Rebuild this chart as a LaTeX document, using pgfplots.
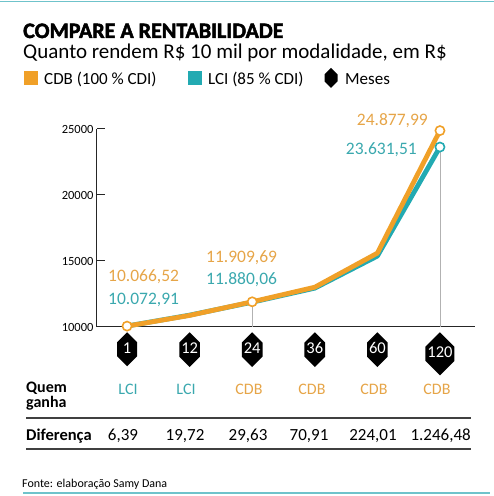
\documentclass[border=0pt]{standalone}
\usepackage{pgfplots}
\pgfplotsset{compat=1.18}
\usepackage{fontspec}
\setmainfont{Carlito}
\newfontfamily\heavyfont[BoldFeatures={FakeBold=2.2}]{Carlito}
\usetikzlibrary{shapes.symbols}
\definecolor{cdb}{HTML}{F0A028}
\definecolor{lci}{HTML}{22AAB2}
\definecolor{cdbtxt}{HTML}{E6A548}
\definecolor{lcitxt}{HTML}{3AA8AE}
\definecolor{rule}{HTML}{6FC3CB}
\newcommand{\fs}[1]{\fontsize{#1}{#1}\selectfont}
\tikzset{hexa/.style={signal, signal to=north and south, signal pointer angle=90,
  fill=black, text=white, inner xsep=2pt, inner ysep=0pt, text height=11pt, text depth=3pt,
  minimum width=20pt, font=\fs{16.5}}}
\begin{document}
\begin{tikzpicture}
\useasboundingbox (0,0) rectangle (494pt,496pt);
% filetes
\draw[rule, line width=1.2pt] (0,494.5pt) -- (494pt,494.5pt);
\draw[rule, line width=1.2pt] (23pt,3pt) -- (490pt,3pt);
% titulo
\node[anchor=base west, inner sep=0pt] at (23pt,458pt) {\heavyfont\bfseries\fs{22}COMPARE A RENTABILIDADE};
\node[anchor=base west, inner sep=0pt] at (23pt,437pt) {\fs{21}Quanto rendem R\$ 10 mil por modalidade, em R\$};
% legenda
\fill[cdb] (24pt,411pt) rectangle (38pt,425pt);
\node[anchor=base west, inner sep=0pt] at (44pt,411pt) {\fs{17}CDB (100 \% CDI)};
\fill[lci] (188pt,411pt) rectangle (202pt,425pt);
\node[anchor=base west, inner sep=0pt] at (208pt,411pt) {\fs{17}LCI (85 \% CDI)};
\node[hexa, minimum width=13pt, text height=7pt, text depth=0pt, inner sep=0pt] at (331pt,418pt) {};
\node[anchor=base west, inner sep=0pt] at (345pt,411pt) {\fs{17}Meses};

\begin{axis}[
  at={(97pt,169pt)}, anchor=south west,
  scale only axis, width=378pt, height=198pt,
  xmin=-0.48, xmax=5.56, ymin=10000, ymax=25000,
  clip=false,
  axis lines=left,
  axis line style={-, line width=1pt, black!85},
  ytick={10000,15000,20000,25000},
  scaled y ticks=false,
  tick align=inside, major tick length=8pt,
  ytick style={line width=1pt, black!85},
  yticklabel style={font=\fs{12.5}, /pgf/number format/1000 sep={}, /pgf/number format/assume math mode=true},
  xtick={0,1,2,3,4,5},
  xticklabels={1,12,24,36,60,120},
  xtick style={draw=none},
  xticklabel style={hexa, anchor=north, yshift=-5pt},
]
% linhas de chamada
\addplot[black!30, line width=0.8pt] coordinates {(2,10000)(2,11909.69)};
\addplot[black!30, line width=0.8pt] coordinates {(5,10000)(5,23631.51)};
% LCI (85 % CDI)
\addplot[lci, line width=4.8pt, line join=round] coordinates {
  (0,10072.91)(1,10898)(2,11880.06)(3,12943)(4,15372)(5,23631.51)};
% CDB (100 % CDI)
\addplot[cdb, line width=4.8pt, line join=round] coordinates {
  (0,10066.52)(1,10878)(2,11909.69)(3,13014)(4,15596)(5,24877.99)};
\addplot[only marks, mark=*, mark size=4.6pt, mark options={fill=white, draw=cdb, line width=1.6pt}]
  coordinates {(0,10066.52)(2,11909.69)(5,24877.99)};
\addplot[only marks, mark=*, mark size=4.6pt, mark options={fill=white, draw=lci, line width=1.6pt}]
  coordinates {(5,23631.51)};
\end{axis}

% rotulos dos valores
\begin{scope}[every node/.style={inner sep=0pt, font=\fs{17.5}}]
\node[anchor=base west, text=cdbtxt] at (108pt,214pt) {10.066,52};
\node[anchor=base west, text=lcitxt] at (108pt,191pt) {10.072,91};
\node[anchor=base west, text=cdbtxt] at (206pt,233pt) {11.909,69};
\node[anchor=base west, text=lcitxt] at (206pt,211pt) {11.880,06};
\node[anchor=base east, text=cdbtxt] at (428pt,370pt) {24.877,99};
\node[anchor=base east, text=lcitxt] at (417pt,341pt) {23.631,51};
\end{scope}

% tabela
\node[anchor=base west, inner sep=0pt, align=left, font=\bfseries\fs{16}] at (26pt,103pt) {Quem};
\node[anchor=base west, inner sep=0pt, font=\bfseries\fs{16}] at (26pt,88pt) {ganha};
\begin{scope}[every node/.style={inner sep=0pt, anchor=base, font=\fs{16}}]
\node[text=lcitxt] at (128pt,101pt) {LCI};
\node[text=lcitxt] at (186pt,101pt) {LCI};
\node[text=cdbtxt] at (249pt,101pt) {CDB};
\node[text=cdbtxt] at (312pt,101pt) {CDB};
\node[text=cdbtxt] at (374pt,101pt) {CDB};
\node[text=cdbtxt] at (437pt,101pt) {CDB};
\end{scope}
\draw[black!75, line width=1.2pt] (26pt,78pt) -- (471pt,78pt);
\node[anchor=base west, inner sep=0pt, font=\bfseries\fs{16.5}] at (26pt,56pt) {Diferença};
\begin{scope}[every node/.style={inner sep=0pt, anchor=base, font=\fs{17}}]
\node at (123pt,56pt) {6,39};
\node at (185pt,56pt) {19,72};
\node at (248pt,56pt) {29,63};
\node at (309pt,56pt) {70,91};
\node at (373pt,56pt) {224,01};
\node[anchor=base east] at (471pt,56pt) {1.246,48};
\end{scope}
\draw[black!75, line width=1.2pt] (26pt,47pt) -- (471pt,47pt);
\node[anchor=base west, inner sep=0pt, font=\fs{12}] at (22pt,9pt) {Fonte: elaboração Samy Dana};
\end{tikzpicture}
\end{document}
